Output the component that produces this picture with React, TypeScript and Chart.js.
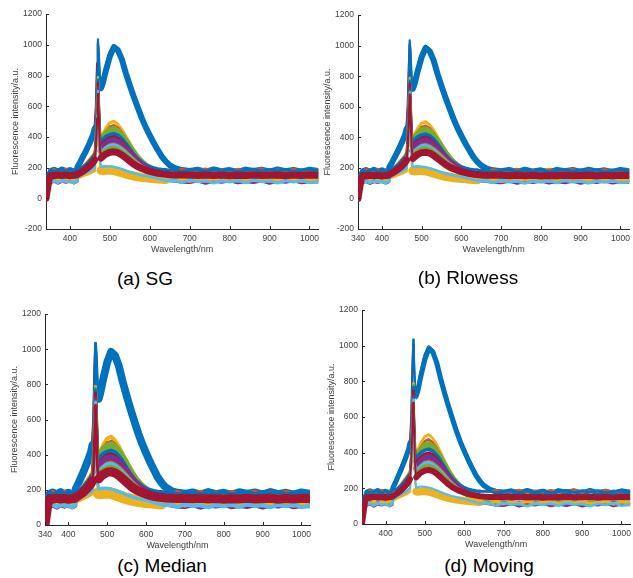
import { useEffect, useRef } from "react";
import { Chart, registerables } from "chart.js";

Chart.register(...registerables);

// Wavelength grid (nm)
const wavelengths = [
  340, 344, 348, 352, 360, 370, 380, 390, 400, 410,
  417, 419, 425, 430, 440, 450, 458, 462, 465, 468,
  470, 472, 475, 478, 482, 490, 500, 510, 520, 530,
  540, 550, 560, 570, 580, 590, 600, 610, 620, 630,
  640, 650, 665, 680, 700, 720, 740, 760, 780, 800,
  820, 840, 860, 880, 900, 920, 940, 960, 980, 1000, 1022,
];

// High-intensity group
const hiBlue = [
  0, 80, 150, 178, 186, 174, 188, 176, 184, 172,
  186, 205, 232, 258, 308, 364, 414, 454, 548, 822,
  1035, 955, 765, 718, 748, 832, 925, 985, 965, 905,
  815, 735, 660, 590, 522, 462, 410, 360, 315, 272,
  240, 215, 194, 184, 178, 186, 174, 188, 176, 184,
  172, 187, 178, 186, 174, 188, 176, 184, 173, 186, 178,
];
const hiRed = [
  0, 78, 140, 162, 166, 160, 165, 161, 166, 162,
  168, 210, 244, 272, 324, 380, 430, 470, 600, 880,
  1010, 900, 745, 728, 770, 858, 950, 995, 975, 915,
  828, 750, 675, 605, 536, 474, 420, 370, 324, 280,
  246, 218, 190, 175, 167, 162, 166, 161, 165, 160,
  166, 161, 165, 160, 166, 162, 160, 165, 161, 166, 163,
];
const hiCyan = [
  0, 76, 146, 188, 176, 190, 178, 186, 174, 189,
  177, 192, 222, 248, 296, 352, 402, 444, 505, 765,
  1000, 975, 780, 705, 735, 815, 905, 968, 958, 905,
  822, 746, 672, 604, 536, 476, 424, 374, 330, 288,
  254, 228, 204, 192, 188, 176, 190, 178, 186, 174,
  189, 177, 188, 176, 190, 178, 186, 174, 189, 177, 184,
];

// Middle group
const midYellow = [
  0, 62, 110, 118, 108, 122, 110, 120, 106, 116,
  122, 160, 178, 194, 224, 254, 280, 298, 420, 650,
  790, 690, 470, 392, 418, 458, 492, 502, 482, 448,
  404, 358, 312, 272, 242, 218, 200, 184, 168, 156,
  144, 134, 124, 118, 112, 120, 108, 122, 110, 120,
  106, 116, 112, 120, 108, 122, 110, 120, 106, 116, 112,
];
const midOrange = [
  0, 72, 140, 180, 190, 178, 184, 192, 176, 186,
  180, 186, 190, 198, 222, 252, 276, 292, 405, 630,
  770, 660, 440, 370, 395, 432, 465, 474, 458, 426,
  386, 343, 300, 263, 235, 216, 202, 192, 186, 184,
  182, 186, 180, 190, 178, 184, 192, 176, 186, 180,
  190, 178, 184, 192, 176, 186, 180, 190, 178, 184, 186,
];
const midBlue = [
  0, 74, 144, 184, 174, 182, 190, 176, 186, 178,
  188, 190, 194, 200, 220, 248, 270, 286, 395, 615,
  770, 650, 430, 360, 382, 402, 414, 420, 410, 388,
  356, 320, 284, 256, 234, 216, 204, 196, 190, 186,
  184, 182, 184, 174, 182, 190, 176, 186, 178, 188,
  174, 182, 190, 176, 186, 178, 188, 174, 182, 190, 180,
];
const midGreen = [
  0, 62, 124, 142, 138, 141, 137, 140, 138, 142,
  144, 158, 172, 186, 212, 242, 264, 281, 385, 600,
  780, 640, 420, 355, 380, 412, 438, 446, 430, 400,
  364, 325, 287, 254, 228, 207, 190, 176, 164, 155,
  149, 145, 142, 140, 141, 138, 142, 137, 141, 139,
  142, 138, 141, 137, 142, 139, 138, 141, 137, 142, 140,
];
const midRed = [
  0, 64, 128, 146, 143, 147, 144, 146, 143, 147,
  149, 160, 170, 180, 206, 233, 256, 272, 370, 590,
  750, 620, 400, 335, 352, 375, 392, 398, 388, 366,
  338, 306, 274, 246, 222, 203, 188, 176, 167, 160,
  155, 151, 148, 146, 145, 147, 144, 146, 143, 147,
  145, 143, 147, 144, 146, 143, 147, 144, 146, 143, 145,
];
const midPurple = [
  0, 55, 100, 104, 114, 100, 112, 106, 116, 102,
  110, 148, 160, 172, 196, 224, 246, 262, 350, 560,
  720, 590, 370, 312, 330, 352, 372, 377, 366, 346,
  320, 292, 262, 236, 214, 196, 180, 166, 152, 138,
  124, 116, 112, 106, 104, 114, 100, 112, 106, 116,
  102, 110, 104, 114, 100, 112, 106, 116, 102, 110, 108,
];
const midOrange2 = [
  0, 58, 112, 120, 128, 114, 124, 110, 126, 116,
  122, 146, 158, 170, 194, 220, 242, 258, 340, 530,
  690, 550, 340, 290, 305, 328, 347, 352, 343, 326,
  304, 278, 252, 229, 209, 192, 176, 164, 152, 142,
  134, 128, 122, 120, 128, 114, 124, 110, 126, 116,
  122, 120, 128, 114, 124, 110, 126, 116, 122, 120, 118,
];
const midCyan = [
  0, 62, 122, 140, 136, 141, 137, 140, 136, 141,
  142, 152, 163, 175, 199, 226, 248, 264, 345, 540,
  700, 560, 345, 292, 306, 326, 342, 346, 336, 318,
  296, 272, 246, 224, 205, 190, 178, 168, 160, 154,
  149, 146, 143, 141, 140, 137, 141, 136, 140, 138,
  141, 137, 140, 136, 141, 138, 137, 140, 136, 141, 139,
];
const midGreen2 = [
  0, 57, 116, 126, 116, 122, 114, 128, 118, 124,
  112, 146, 156, 166, 190, 216, 238, 254, 335, 520,
  680, 540, 330, 278, 292, 312, 325, 328, 320, 305,
  286, 263, 240, 219, 200, 183, 168, 156, 146, 138,
  132, 128, 124, 126, 116, 122, 114, 128, 118, 124,
  112, 126, 116, 122, 114, 128, 118, 124, 112, 126, 120,
];

// Low group
const lowRed = [
  0, 66, 128, 150, 147, 152, 148, 151, 147, 150,
  152, 158, 165, 172, 190, 212, 234, 250, 330, 520,
  680, 560, 330, 262, 272, 288, 300, 303, 297, 282,
  262, 242, 222, 206, 194, 184, 176, 169, 163, 159,
  156, 154, 152, 151, 152, 149, 152, 148, 151, 147,
  150, 148, 152, 148, 150, 152, 147, 151, 148, 152, 150,
];
const lowOrange = [
  0, 56, 112, 122, 114, 126, 112, 124, 116, 128,
  118, 135, 140, 146, 156, 166, 176, 182, 260, 420,
  500, 420, 230, 182, 180, 182, 184, 180, 174, 166,
  158, 151, 145, 140, 136, 133, 130, 128, 126, 124,
  122, 120, 114, 126, 112, 124, 116, 128, 114, 122,
  126, 112, 124, 116, 128, 114, 122, 126, 112, 124, 120,
];
const lowCyan = [
  0, 60, 108, 106, 116, 102, 118, 108, 112, 100,
  114, 142, 148, 156, 168, 180, 192, 200, 290, 460,
  560, 470, 260, 205, 207, 210, 208, 205, 198, 190,
  180, 171, 163, 156, 150, 145, 140, 134, 128, 122,
  116, 114, 116, 102, 118, 108, 112, 100, 114, 106,
  116, 102, 118, 108, 112, 100, 114, 106, 116, 102, 110,
];

// Tick labels
const yTicksWithNeg = [-200, 0, 200, 400, 600, 800, 1000, 1200];
const yTicksPositive = [0, 200, 400, 600, 800, 1000, 1200];
const xTicksWith340 = [340, 400, 500, 600, 700, 800, 900, 1000];
const xTicksNo340 = [400, 500, 600, 700, 800, 900, 1000];
const captions = ["(a) SG", "(b) Rlowess", "(c) Median", "(d) Moving"];

const C = {
  blue: "#0072BD",
  orange: "#D95319",
  yellow: "#EDB120",
  purple: "#7E2F8E",
  green: "#77AC30",
  cyan: "#4DBEEE",
  red: "#A2142F",
};

// first entry is drawn on top; peak = width used in the emission-band region
const curves = [
  { values: lowRed, color: C.red, width: 7, peak: 7 },
  { values: lowCyan, color: C.cyan, width: 3, peak: 2.5 },
  { values: lowOrange, color: C.yellow, width: 3.5, peak: 9 },
  { values: midGreen2, color: C.green, width: 3.5, peak: 4 },
  { values: midCyan, color: C.cyan, width: 3, peak: 4 },
  { values: midOrange2, color: C.orange, width: 3.5, peak: 4 },
  { values: midPurple, color: C.purple, width: 3.5, peak: 7 },
  { values: midRed, color: C.red, width: 3, peak: 4 },
  { values: midBlue, color: C.blue, width: 3, peak: 4 },
  { values: midGreen, color: C.green, width: 3, peak: 8 },
  { values: midOrange, color: C.orange, width: 2.5, peak: 3 },
  { values: midYellow, color: C.yellow, width: 3.5, peak: 3 },
  { values: hiBlue, color: C.blue, width: 6, peak: 6 },
  { values: hiRed, color: C.red, width: 3, peak: 3 },
  { values: hiCyan, color: C.cyan, width: 2.5, peak: 2.5 },
];

const panels = [
  { left: 0, top: 5, width: 324, height: 252, yMin: -200, yTicks: yTicksWithNeg, xTicks: xTicksNo340, lw: 1, capX: 145, capY: 278 },
  { left: 312, top: 6, width: 323, height: 251, yMin: -200, yTicks: yTicksWithNeg, xTicks: xTicksWith340, lw: 1, capX: 468, capY: 277 },
  { left: -1, top: 305, width: 317, height: 248, yMin: 0, yTicks: yTicksPositive, xTicks: xTicksWith340, lw: 1.3, capX: 162, capY: 565 },
  { left: 316, top: 301, width: 320, height: 251, yMin: 0, yTicks: yTicksPositive, xTicks: xTicksNo340, lw: 0.85, capX: 489, capY: 565 },
];

const FONT = "'Liberation Sans', Arial, Helvetica, sans-serif";
const AXIS = "#262626";
const LABEL = "#404040";

const inwardTicks = {
  id: "inwardTicks",
  afterDraw(chart: any) {
    const { ctx, chartArea } = chart;
    const xs = chart.scales.x;
    const ys = chart.scales.y;
    ctx.save();
    ctx.strokeStyle = AXIS;
    ctx.lineWidth = 1;
    ctx.beginPath();
    xs.ticks.forEach((t: any) => {
      const px = Math.round(xs.getPixelForValue(t.value)) + 0.5;
      ctx.moveTo(px, chartArea.bottom);
      ctx.lineTo(px, chartArea.bottom - 3);
    });
    ys.ticks.forEach((t: any) => {
      const py = Math.round(ys.getPixelForValue(t.value)) + 0.5;
      ctx.moveTo(chartArea.left, py);
      ctx.lineTo(chartArea.left + 3, py);
    });
    ctx.stroke();
    ctx.restore();
  },
};

export default function App() {
  const refs = useRef<(HTMLCanvasElement | null)[]>([]);

  useEffect(() => {
    const charts = panels.map((p, i) => {
      const canvas = refs.current[i]!;
      const datasets = curves.map((c) => ({
        data: wavelengths.map((w, k) => ({ x: w, y: c.values[k] })),
        borderColor: c.color,
        backgroundColor: c.color,
        borderWidth: c.width * p.lw,
        pointRadius: 0,
        tension: 0,
        fill: false,
        clip: 0,
        borderJoinStyle: "round" as const,
        borderCapStyle: "round" as const,
        segment: {
          borderWidth: (ctx: any) => {
            const x0 = ctx.p0.parsed.x;
            const x1 = ctx.p1.parsed.x;
            if (x0 >= 462 && x1 <= 478) return Math.min(c.width, 2.2) * p.lw;
            if (x0 >= 478 && x1 <= 640) return c.peak * p.lw;
            return c.width * p.lw;
          },
        },
      }));
      return new Chart(canvas, {
        type: "line",
        data: { datasets },
        plugins: [inwardTicks],
        options: {
          animation: false,
          responsive: false,
          devicePixelRatio: 1,
          events: [],
          parsing: false,
          layout: { padding: { top: 8, right: 2, left: 0, bottom: 0 } },
          plugins: { legend: { display: false }, tooltip: { enabled: false } },
          scales: {
            x: {
              type: "linear",
              min: 340,
              max: 1022,
              border: { display: true, color: AXIS, width: 1 },
              grid: { display: false, drawTicks: false },
              ticks: {
                autoSkip: false,
                maxRotation: 0,
                padding: 5,
                color: LABEL,
                font: { family: FONT, size: 8.5 },
                callback: (v: any) => String(v),
              },
              afterBuildTicks: (s: any) => {
                s.ticks = p.xTicks.map((v) => ({ value: v }));
              },
              afterFit: (s: any) => {
                s.height = 28;
              },
              title: {
                display: true,
                text: "Wavelength/nm",
                color: LABEL,
                font: { family: FONT, size: 9 },
                padding: { top: 0, bottom: 2 },
              },
            },
            y: {
              type: "linear",
              min: p.yMin,
              max: 1200,
              border: { display: true, color: AXIS, width: 1 },
              grid: { display: false, drawTicks: false },
              ticks: {
                autoSkip: false,
                padding: 4,
                color: LABEL,
                font: { family: FONT, size: 8.5 },
                callback: (v: any) => String(v),
              },
              afterBuildTicks: (s: any) => {
                s.ticks = p.yTicks.map((v) => ({ value: v }));
              },
              afterFit: (s: any) => {
                s.width = 46;
              },
              title: {
                display: true,
                text: "Fluorescence intensity/a.u.",
                color: LABEL,
                font: { family: FONT, size: 9 },
                padding: { top: 10.6, bottom: 0 },
              },
            },
          },
        },
      });
    });
    return () => charts.forEach((c) => c.destroy());
  }, []);

  return (
    <div
      style={{
        position: "absolute",
        left: 0,
        top: 0,
        width: 633,
        height: 578,
        overflow: "hidden",
        background: "#ffffff",
      }}
    >
      {panels.map((p, i) => (
        <canvas
          key={"c" + i}
          ref={(el) => {
            refs.current[i] = el;
          }}
          width={p.width}
          height={p.height}
          style={{
            position: "absolute",
            left: p.left,
            top: p.top,
            width: p.width,
            height: p.height,
          }}
        />
      ))}
      {panels.map((p, i) => (
        <div
          key={"t" + i}
          style={{
            position: "absolute",
            left: p.capX,
            top: p.capY,
            transform: "translate(-50%, -50%)",
            fontFamily: FONT,
            fontSize: 19,
            lineHeight: 1,
            color: "#000",
            whiteSpace: "nowrap",
          }}
        >
          {captions[i]}
        </div>
      ))}
    </div>
  );
}
